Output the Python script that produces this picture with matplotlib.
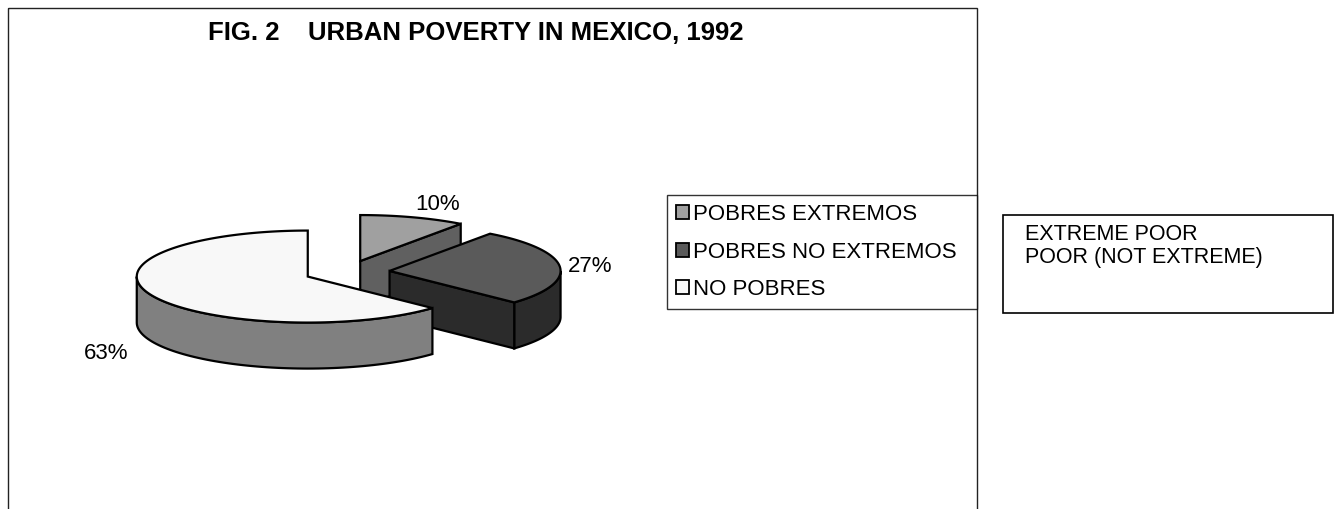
import numpy as np
import matplotlib.pyplot as plt
from matplotlib.patches import Polygon, Rectangle, Patch

plt.rcParams['font.family'] = ['Liberation Sans', 'DejaVu Sans']

# data
categories = ["POBRES EXTREMOS", "POBRES NO EXTREMOS", "NO POBRES"]
values = [10, 27, 63]
top_colors = ["#a0a0a0", "#5a5a5a", "#f8f8f8"]
side_colors = ["#606060", "#2b2b2b", "#808080"]
english_labels = ["EXTREME POOR", "POOR (NOT EXTREME)"]
title = "FIG. 2    URBAN POVERTY IN MEXICO, 1992"

W, H = 1344, 509
fig = plt.figure(figsize=(W / 100, H / 100), dpi=100)
ax = fig.add_axes([0, 0, 1, 1])
ax.set_xlim(0, W)
ax.set_ylim(H, 0)
ax.axis("off")

# chart area border (bottom edge is cut off in the original)
ax.add_patch(Rectangle((8, 8), 969, 700, fill=False, ec="#222222", lw=1.0))

ax.text(476, 33, title, ha="center", va="center", fontsize=18.5, fontweight="bold")

# 3d pie geometry
cx, cy = 347, 272
rx, ry = 171, 46
depth = 46
explode = 0.25
lw = 1.6


def ell(x0, y0, t, dy=0.0):
    return np.column_stack([x0 + rx * np.cos(t), y0 - ry * np.sin(t) + dy])


total = sum(values)
cum = np.concatenate([[0], np.cumsum(values)]) / total * 360
slices = []
for i, v in enumerate(values):
    b = 90 - cum[i]
    a = 90 - cum[i + 1]
    m = np.deg2rad((a + b) / 2)
    x0 = cx + explode * rx * np.cos(m)
    y0 = cy - explode * ry * np.sin(m)
    slices.append((i, a, b, m, x0, y0))

z = 2
for i, a, b, m, x0, y0 in sorted(slices, key=lambda s: s[5]):
    # outer side (front half only)
    for k in (-1, 0, 1):
        lo = max(a, -180 + 360 * k)
        hi = min(b, 360 * k)
        if hi > lo:
            t = np.deg2rad(np.linspace(lo, hi, 80))
            pts = np.vstack([ell(x0, y0, t), ell(x0, y0, t[::-1], depth)])
            ax.add_patch(Polygon(pts, closed=True, fc=side_colors[i], ec="black", lw=lw, zorder=z))
    # radial faces that face the viewer
    for ang, vis in ((a, np.cos(np.deg2rad(a)) > 1e-6), (b, np.cos(np.deg2rad(b)) < -1e-6)):
        if vis:
            p = ell(x0, y0, np.array([np.deg2rad(ang)]))[0]
            pts = [(x0, y0), p, (p[0], p[1] + depth), (x0, y0 + depth)]
            ax.add_patch(Polygon(pts, closed=True, fc=side_colors[i], ec="black", lw=lw, zorder=z))
    # top face
    t = np.deg2rad(np.linspace(a, b, 150))
    pts = np.vstack([[x0, y0], ell(x0, y0, t)])
    ax.add_patch(Polygon(pts, closed=True, fc=top_colors[i], ec="black", lw=lw, zorder=z + 1))
    z += 2

    # percentage label
    c, s = np.cos(m), np.sin(m)
    f = 1.05 if s > -0.2 else 1.14
    lx = x0 + f * rx * c
    ly = y0 - f * ry * s + (depth if s < -0.2 else 0)
    ha = "left" if c > 0.2 else ("right" if c < -0.2 else "center")
    va = "bottom" if s > 0.2 else ("top" if s < -0.2 else "center")
    ax.text(lx, ly, f"{values[i]}%", ha=ha, va=va, fontsize=16, zorder=20)

# legend
handles = [Patch(fc=col, ec="black", lw=1.3) for col in top_colors]
leg = ax.legend(handles, categories, loc="upper left",
                bbox_to_anchor=(667 / W, 1 - 304 / H, 310 / W, 109 / H),
                bbox_transform=fig.transFigure, mode="expand",
                fontsize=16, handlelength=0.6, handleheight=0.6, handletextpad=0.15,
                labelspacing=0.75, borderpad=0.4, borderaxespad=0,
                fancybox=False, shadow=False, frameon=True)
leg.get_frame().set_edgecolor("black")
leg.get_frame().set_linewidth(1.0)

# english translation box
ax.add_patch(Rectangle((1003, 215), 330, 98, fill=False, ec="black", lw=1.2))
for j, txt in enumerate(english_labels):
    ax.text(1025, 234 + 24 * j, txt, ha="left", va="center", fontsize=15.5)

fig.savefig("out.png", dpi=100)
